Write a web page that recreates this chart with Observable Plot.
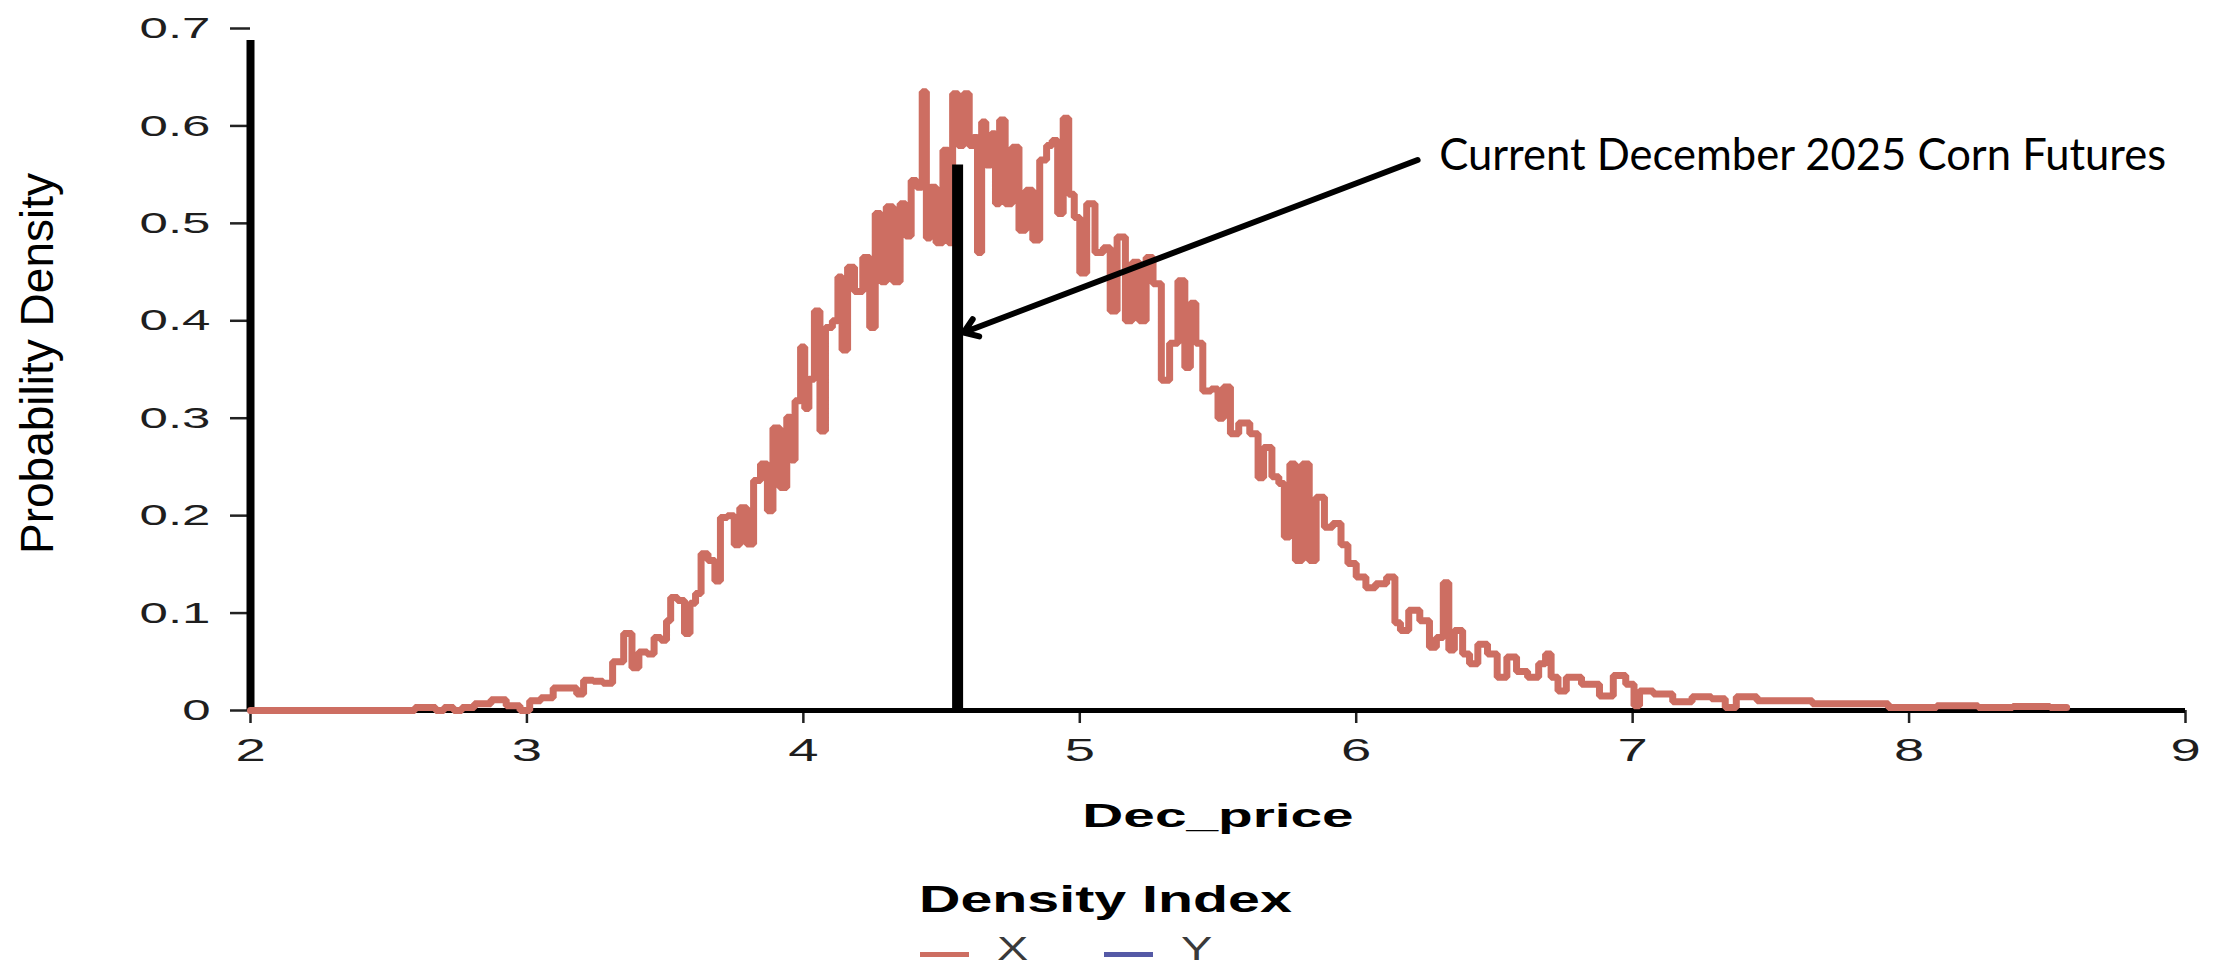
<!DOCTYPE html>
<html>
<head>
<meta charset="utf-8">
<script src="https://cdn.jsdelivr.net/npm/d3@7"></script>
<script src="https://cdn.jsdelivr.net/npm/@observablehq/plot@0.6"></script>
<style>
html, body { margin: 0; padding: 0; background: #fff; }
#chart { position: relative; width: 2215px; height: 966px; overflow: hidden; background: #fff; }
#chart svg { display: block; }
</style>
</head>
<body>
<div id="chart"></div>
<script>
// ---- data ----
const decPrice = [2.00,2.58,2.61,2.66,2.68,2.72,2.75,2.78,2.84,2.90,2.95,3.00,3.02,3.08,3.11,3.17,3.19,3.22,3.26,3.29,3.33,3.37,3.39,3.42,3.45,3.47,3.50,3.51,3.53,3.56,3.58,3.60,3.62,3.64,3.67,3.69,3.71,3.74,3.76,3.78,3.81,3.83,3.86,3.88,3.90,3.93,3.95,3.96,3.98,4.00,4.01,4.03,4.05,4.07,4.09,4.12,4.13,4.15,4.17,4.20,4.23,4.25,4.27,4.29,4.31,4.34,4.36,4.38,4.40,4.42,4.44,4.45,4.47,4.49,4.52,4.53,4.55,4.57,4.59,4.61,4.62,4.64,4.65,4.67,4.69,4.70,4.72,4.74,4.77,4.79,4.82,4.84,4.87,4.89,4.91,4.93,4.95,4.97,4.99,5.01,5.04,5.07,5.10,5.12,5.15,5.18,5.20,5.23,5.25,5.28,5.31,5.34,5.37,5.39,5.41,5.43,5.46,5.49,5.51,5.53,5.56,5.59,5.64,5.65,5.68,5.71,5.73,5.75,5.77,5.79,5.82,5.84,5.87,5.90,5.93,5.96,5.98,6.02,6.05,6.09,6.13,6.15,6.17,6.21,6.25,6.28,6.30,6.33,6.34,6.37,6.40,6.42,6.46,6.49,6.53,6.56,6.60,6.64,6.68,6.69,6.72,6.74,6.78,6.85,6.91,6.95,7.00,7.01,7.04,7.11,7.18,7.25,7.32,7.35,7.40,7.50,7.60,7.70,7.85,8.00,8.20,8.30,8.45,8.57];
const density = [0,0,0.003,0.003,0,0.003,0,0.003,0.007,0.011,0.005,0,0.010,0.013,0.023,0.023,0.017,0.031,0.030,0.028,0.050,0.079,0.044,0.060,0.058,0.075,0.072,0.092,0.116,0.113,0.079,0.110,0.120,0.161,0.154,0.133,0.198,0.200,0.170,0.208,0.171,0.236,0.253,0.205,0.290,0.229,0.301,0.257,0.318,0.373,0.310,0.340,0.410,0.287,0.393,0.400,0.445,0.370,0.455,0.430,0.465,0.393,0.510,0.440,0.517,0.440,0.520,0.487,0.544,0.537,0.635,0.485,0.537,0.480,0.575,0.480,0.633,0.580,0.633,0.580,0.588,0.470,0.604,0.560,0.592,0.520,0.606,0.520,0.578,0.493,0.534,0.483,0.565,0.580,0.585,0.510,0.608,0.530,0.506,0.449,0.520,0.470,0.475,0.410,0.486,0.400,0.460,0.400,0.465,0.438,0.339,0.377,0.441,0.352,0.418,0.377,0.328,0.330,0.300,0.332,0.284,0.295,0.284,0.239,0.270,0.240,0.233,0.178,0.253,0.154,0.253,0.154,0.219,0.188,0.192,0.170,0.151,0.137,0.126,0.130,0.137,0.090,0.082,0.103,0.092,0.065,0.075,0.131,0.062,0.082,0.058,0.048,0.068,0.058,0.034,0.055,0.040,0.034,0.048,0.058,0.034,0.020,0.034,0.027,0.015,0.036,0.027,0.005,0.020,0.017,0.009,0.014,0.012,0.003,0.014,0.010,0.010,0.007,0.007,0.003,0.005,0.003,0.004,0.003];
const xTicks = [2, 3, 4, 5, 6, 7, 8, 9];
const yTicks = [0, 0.1, 0.2, 0.3, 0.4, 0.5, 0.6, 0.7];
const currentPrice = [4.558];
const currentDensity = [0.566];
const annotationLabels = ["Current December 2025 Corn Futures"];
const annotationX = [6.30];
const annotationY = [0.569];
const arrowStart = [6.222, 0.565];
const arrowEnd = [4.58, 0.388];
const seriesNames = ["X", "Y"];
const seriesColors = ["#cd6e62", "#5559a6"];
const legendTitle = "Density Index";
const xLabel = "Dec_price";
const yLabel = "Probability Density";

// ---- build tables ----
const curve = decPrice.map((x, i) => ({x, y: density[i]}));
const marker = currentPrice.map((p, i) => ({price: p, dens: currentDensity[i]}));
const notes = annotationLabels.map((t, i) => ({label: t, x: annotationX[i], y: annotationY[i]}));
const arrows = [{x1: arrowStart[0], y1: arrowStart[1], x2: arrowEnd[0], y2: arrowEnd[1]}];

const FONT = "'Liberation Sans', Arial, Helvetica, sans-serif";
const plainNumber = d => String(d);

const plot = Plot.plot({
  width: 2215,
  height: 870,
  marginLeft: 250,
  marginRight: 30,
  marginTop: 28,
  marginBottom: 160,
  x: {domain: [2, 9]},
  y: {domain: [0, 0.7]},
  style: {fontFamily: FONT, color: "#1e1e1e", background: "white", overflow: "visible"},
  marks: [
    Plot.axisY({ticks: yTicks, tickFormat: plainNumber, tickSize: 20, tickPadding: 20, fontSize: 30, label: null, strokeWidth: 2.5, stroke: "#222"}),
    Plot.axisX({ticks: xTicks, tickFormat: plainNumber, tickSize: 13, tickPadding: 15, fontSize: 32, label: null, strokeWidth: 2.5, stroke: "#222"}),
    Plot.ruleY([0], {x1: 2, x2: 9, stroke: "black", strokeWidth: 5}),
    Plot.ruleX([2], {y1: 0, y2: 0.7, stroke: "black", strokeWidth: 8, insetBottom: -12}),
    Plot.line(curve, {x: "x", y: "y", curve: "step", stroke: seriesColors[0], strokeWidth: 7, strokeLinejoin: "miter"}),
    Plot.ruleX(marker, {x: "price", y1: 0, y2: "dens", stroke: "black", strokeWidth: 11, insetBottom: -6}),
    Plot.arrow(arrows, {x1: "x1", y1: "y1", x2: "x2", y2: "y2", stroke: "black", strokeWidth: 6, headLength: 4, headAngle: 70}),
    Plot.text(notes, {x: "x", y: "y", text: "label", textAnchor: "start", fontSize: 44, fontFamily: "Lato, 'Open Sans', sans-serif", fill: "black"}),
    Plot.text([xLabel], {text: d => d, frameAnchor: "bottom", dy: 116, fontSize: 33, fontWeight: "bold", fill: "black"}),
    Plot.text([yLabel], {text: d => d, frameAnchor: "left", textAnchor: "middle", rotate: -90, dx: -212, dy: -6, fontSize: 46, fill: "black"})
  ]
});

const chart = document.getElementById("chart");
chart.appendChild(plot);

// ---- legend (below the plot svg) ----
const legend = d3.select(chart).append("svg")
  .attr("width", 2215).attr("height", 96)
  .style("font-family", FONT);
legend.append("text").attr("class", "ltitle")
  .attr("x", 919).attr("y", 42)
  .attr("font-size", 37).attr("font-weight", "bold").attr("fill", "black")
  .text(legendTitle);
const swatchX = [920, 1104];
seriesNames.forEach((name, i) => {
  legend.append("rect").attr("x", swatchX[i]).attr("y", 82).attr("width", 49).attr("height", 5).attr("fill", seriesColors[i]);
  legend.append("text").attr("class", "litem").attr("x", swatchX[i] + 77).attr("y", 90)
    .attr("font-size", 33).attr("fill", "#3a3a3a").text(name);
});

// ---- widen glyphs like the (horizontally stretched) original ----
function stretch(sel, k) {
  sel.each(function () {
    const w = this.getComputedTextLength();
    this.setAttribute("textLength", w * k);
    this.setAttribute("lengthAdjust", "spacingAndGlyphs");
  });
}
function fitTo(sel, len) {
  sel.each(function () {
    this.setAttribute("textLength", len);
    this.setAttribute("lengthAdjust", "spacingAndGlyphs");
  });
}
const svg = d3.select(plot);
stretch(svg.selectAll('g[aria-label="y-axis tick label"] text'), 1.7);
stretch(svg.selectAll('g[aria-label="x-axis tick label"] text'), 1.7);
svg.selectAll('g[aria-label="text"] text').each(function () {
  const t = this.textContent;
  if (t === xLabel) stretch(d3.select(this), 1.72);
  else if (t === annotationLabels[0]) fitTo(d3.select(this), 727);
});
stretch(legend.selectAll("text.ltitle"), 1.55);
stretch(legend.selectAll("text.litem"), 1.42);
</script>
</body>
</html>
